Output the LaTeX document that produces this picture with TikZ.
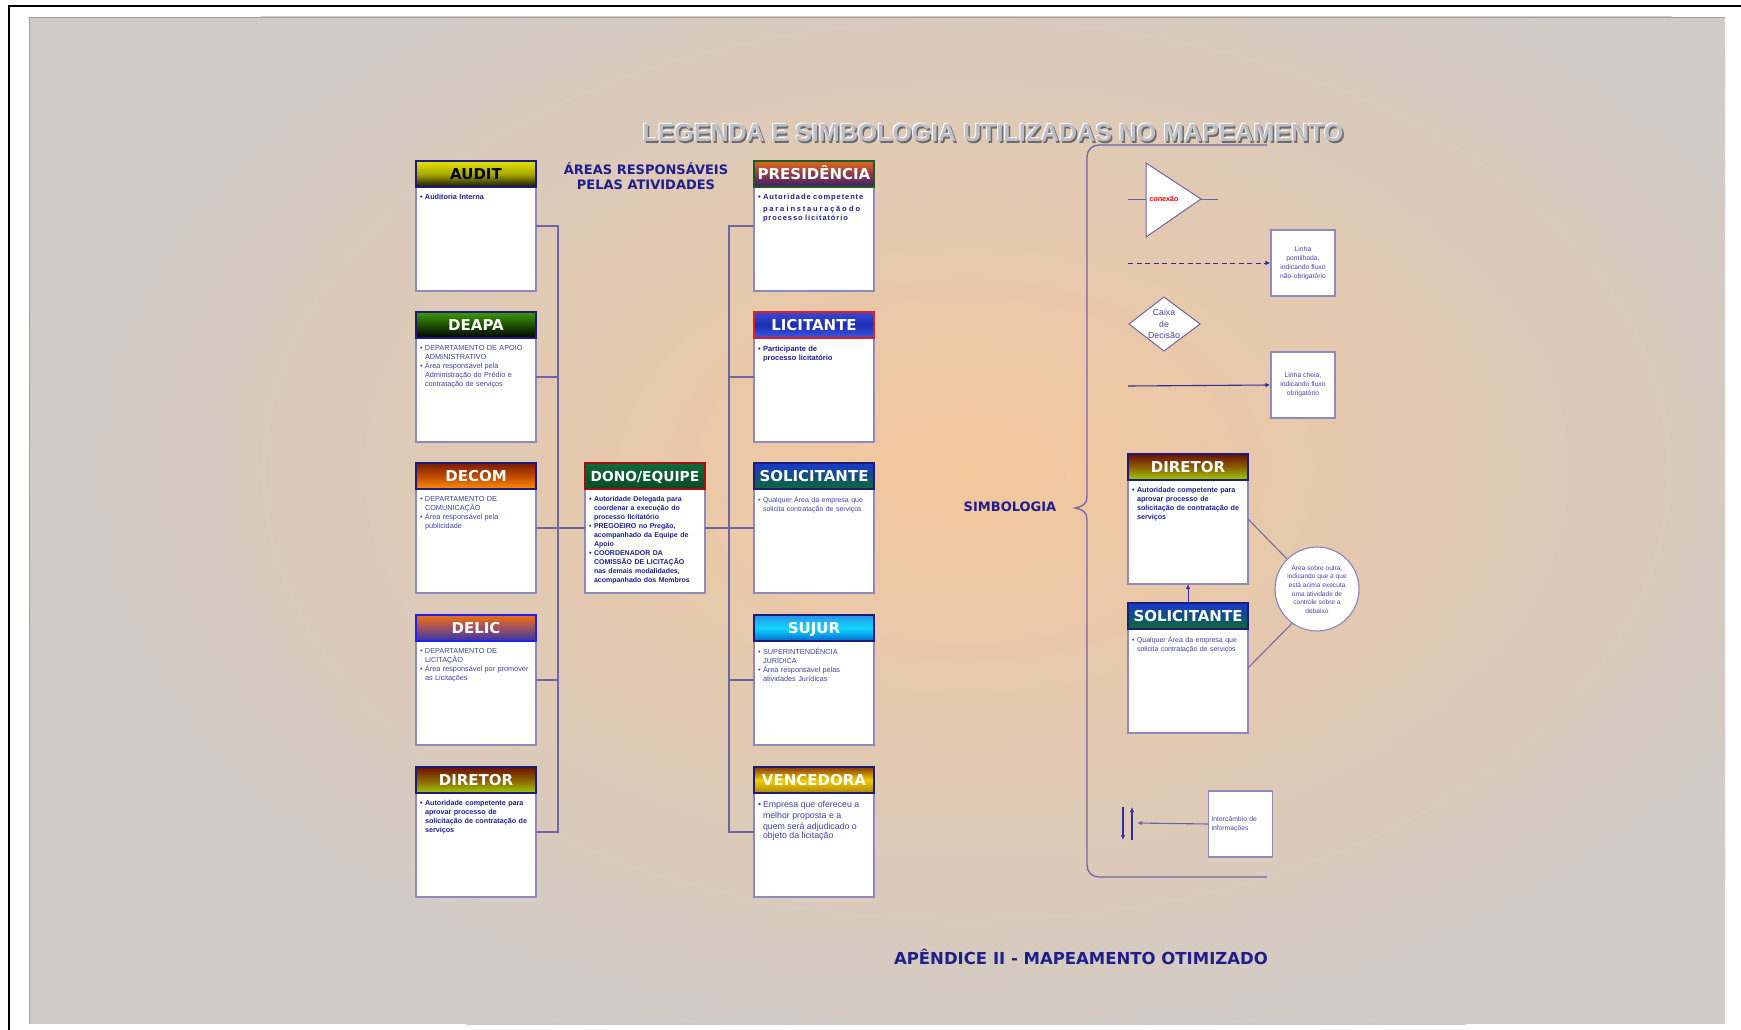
\documentclass[tikz,border=0pt]{standalone}
\usepackage{fontspec}
\setmainfont{Liberation Sans}
\newfontfamily\hfont{DejaVu Sans}
\newfontfamily\lsfontA{Liberation Sans}[LetterSpace=12]
\newfontfamily\lsfontB{Liberation Sans}[LetterSpace=24]
\usetikzlibrary{arrows.meta}
\definecolor{navy}{HTML}{1E1E8C}
\definecolor{navyl}{HTML}{4040A4}
\definecolor{legtxt}{HTML}{4646A8}
\definecolor{connc}{HTML}{6E66A6}
\definecolor{boxline}{HTML}{8E8ABE}
\definecolor{headline}{HTML}{1C1C78}
\definecolor{bggray}{HTML}{CDCCCB}
\definecolor{peach}{HTML}{F4C79C}
\definecolor{arrowc}{HTML}{30309A}
% header gradients
\definecolor{auT}{HTML}{E4E400}\definecolor{auM}{HTML}{A8A800}\definecolor{auB}{HTML}{141400}
\definecolor{deT}{HTML}{3E9A00}\definecolor{deM}{HTML}{1E5000}\definecolor{deB}{HTML}{000000}
\definecolor{dcT}{HTML}{7A1C00}\definecolor{dcM}{HTML}{C04A00}\definecolor{dcB}{HTML}{FF8C00}
\definecolor{dlT}{HTML}{F07010}\definecolor{dlM}{HTML}{9A5060}\definecolor{dlB}{HTML}{3434B0}
\definecolor{diT}{HTML}{6A1000}\definecolor{diM}{HTML}{8A6000}\definecolor{diB}{HTML}{A0CC00}
\definecolor{prT}{HTML}{E06818}\definecolor{prM}{HTML}{8A3C48}\definecolor{prB}{HTML}{38206E}
\definecolor{liT}{HTML}{3848D8}\definecolor{liM}{HTML}{1E2EB0}\definecolor{liB}{HTML}{3A5AE8}
\definecolor{soT}{HTML}{1838D0}\definecolor{soM}{HTML}{125080}\definecolor{soB}{HTML}{0E6A30}
\definecolor{suT}{HTML}{2890E8}\definecolor{suM}{HTML}{10D8FF}\definecolor{suB}{HTML}{0068D0}
\definecolor{veT}{HTML}{8A3800}\definecolor{veM}{HTML}{F0CC00}\definecolor{veB}{HTML}{B08800}
\definecolor{doT}{HTML}{0C6A3A}\definecolor{doB}{HTML}{0A4A26}
\definecolor{prline}{HTML}{1E5A22}\definecolor{liline}{HTML}{E02020}
\definecolor{dlline}{HTML}{2020F0}\definecolor{doline}{HTML}{A01010}
\newcommand\bp{\makebox[5pt][l]{\vrule width 0pt height 0.8em\textbullet}}
\newcommand\ind{\hspace*{5pt}}
\newcommand\areabox[6]{%
  \node[bodybox] (#1) at (#2,#3) {};
  \node[headbox,#5] (#1-h) at (#1.north west) {#4};
  \node[btext] (#1-t) at ([xshift=4pt,yshift=-33pt]#1.north west) {#6};}
\begin{document}
\begin{tikzpicture}[x=1pt,y=-1pt,
  bodybox/.style={draw=boxline, line width=1.4pt, fill=white, minimum width=120, minimum height=130, inner sep=0, outer sep=0, anchor=north west},
  headbox/.style={draw=headline, line width=1.6pt, minimum width=120, minimum height=26, inner sep=0, outer sep=0, anchor=north west, font=\hfont\bfseries\fontsize{15}{15}\selectfont, text=white, text height=10.9pt, text depth=0pt},
  btext/.style={anchor=north west, inner sep=0, outer sep=0, text width=114, align=left, text=navyl, font=\fontsize{7.3}{9}\selectfont},
  link/.style={draw=connc, line width=1.3pt},
  thinlink/.style={draw=connc, line width=1pt},
  arrowline/.style={draw=arrowc, line width=1.1pt, -{Latex[length=5pt,width=4.5pt]}},
  legbox/.style={draw=boxline, line width=1.2pt, fill=white, minimum width=64, minimum height=66, inner sep=0, text=legtxt, font=\fontsize{6.8}{9}\selectfont, align=center},
  heading/.style={text=navy, font=\hfont\bfseries\fontsize{13}{15}\selectfont, align=center}
]
\useasboundingbox (0,0) rectangle (1741,1030);
\fill[white] (0,0) rectangle (1741,1030);
\draw[black, line width=1.8pt] (8.7,1032) -- (8.7,6) -- (1743,6);
% panel
\fill[bggray] (29,17) rectangle (1725,1024);
\begin{scope}
  \clip (29,17) rectangle (1725,1024);
  \shade[inner color=peach, outer color=bggray] (966,470) ellipse [x radius=1000, y radius=640];
\end{scope}
\draw[gray!75, line width=1.2pt] (29.5,1024) -- (29.5,17.5) -- (1725,17.5);
\draw[gray!40, line width=0.8pt] (29.5,1023.5) -- (1725,1023.5);

% title
\node[font=\bfseries\fontsize{25}{25}\selectfont, text=gray!85!black] (titles) at (994.5,134.5) {LEGENDA E SIMBOLOGIA UTILIZADAS NO MAPEAMENTO};
\node[font=\bfseries\fontsize{25}{25}\selectfont, text=white] (titleh) at (992,132) {LEGENDA E SIMBOLOGIA UTILIZADAS NO MAPEAMENTO};
\node[font=\bfseries\fontsize{25}{25}\selectfont, text={rgb,255:red,190;green,190;blue,198}] (title) at (993,133) {LEGENDA E SIMBOLOGIA UTILIZADAS NO MAPEAMENTO};

\node[heading] (areas) at (646,176) {ÁREAS RESPONSÁVEIS\\PELAS ATIVIDADES};
\node[heading] (simb) at (1010,507) {SIMBOLOGIA};
\node[heading, font=\hfont\bfseries\fontsize{16.5}{18}\selectfont] (apend) at (1081,957) {APÊNDICE II - MAPEAMENTO OTIMIZADO};

% left column
\areabox{audit}{416}{161}{AUDIT}{top color=auT, bottom color=auB, middle color=auM, text=black}
  {\bfseries\color{navy}\bp Auditoria Interna}
\areabox{deapa}{416}{312}{DEAPA}{top color=deT, bottom color=deB, middle color=deM}
  {\bp DEPARTAMENTO DE APOIO\\\ind ADMINISTRATIVO\\\bp Área responsável pela\\\ind Administração do Prédio e\\\ind contratação de serviços}
\areabox{decom}{416}{463}{DECOM}{top color=dcT, bottom color=dcB, middle color=dcM}
  {\bp DEPARTAMENTO DE\\\ind COMUNICAÇÃO\\\bp Área responsável pela\\\ind publicidade}
\areabox{delic}{416}{615}{DELIC}{top color=dlT, bottom color=dlB, middle color=dlM, draw=dlline}
  {\bp DEPARTAMENTO DE\\\ind LICITAÇÃO\\\bp Área responsável por promover\\\ind as Licitações}
\areabox{diretor}{416}{767}{DIRETOR}{top color=diT, bottom color=diB, middle color=diM}
  {\bfseries\color{navy}\fontsize{7.2}{9}\selectfont\bp Autoridade competente para\\\ind aprovar processo de\\\ind solicitação de contratação de\\\ind serviços}

% middle
\areabox{dono}{585}{463}{\fontsize{13.8}{14}\selectfont DONO/EQUIPE}{top color=doT, bottom color=doB, draw=doline}
  {\bfseries\color{navy}\fontsize{7}{9}\selectfont\bp Autoridade Delegada para\\\ind coordenar a execução do\\\ind processo licitatório\\\bp PREGOEIRO no Pregão,\\\ind acompanhado da Equipe de\\\ind Apoio\\\bp COORDENADOR DA\\\ind COMISSÃO DE LICITAÇÃO\\\ind nas demais modalidades,\\\ind acompanhado dos Membros}

% right column
\areabox{presid}{754}{161}{PRESIDÊNCIA}{top color=prT, bottom color=prB, middle color=prM, draw=prline}
  {\lsfontA\bfseries\color{navy}\fontsize{7.5}{11.3}\selectfont\bp\makebox[106pt][s]{Autoridade competente}\\\ind{\lsfontB\bfseries\makebox[106pt][s]{para instauração do}}\\\ind processo licitatório}
\areabox{licit}{754}{312}{LICITANTE}{top color=liT, bottom color=liB, middle color=liM, draw=liline}
  {\bfseries\color{navy}\fontsize{7.5}{11.3}\selectfont\bp Participante de\\\ind processo licitatório}
\areabox{solic}{754}{463}{SOLICITANTE}{top color=soT, bottom color=soB, middle color=soM}
  {\fontsize{7}{9}\selectfont\bp Qualquer Área da empresa que\\\ind solicita contratação de serviços}
\areabox{sujur}{754}{615}{SUJUR}{top color=suT, bottom color=suB, middle color=suM}
  {\bp SUPERINTENDÊNCIA\\\ind JURÍDICA\\\bp Área responsável pelas\\\ind atividades Jurídicas}
\areabox{venc}{754}{767}{VENCEDORA}{top color=veT, bottom color=veB, middle color=veM}
  {\fontsize{8.8}{11.3}\selectfont\bp Empresa que ofereceu a\\\ind melhor proposta e a\\\ind quem será adjudicado o\\\ind objeto da licitação}

% trunks
\coordinate (lt) at (558,0);
\coordinate (rt) at (729,0);
\draw[link] (audit.east) -- (audit.east -| lt) -- (diretor.east -| lt) -- (diretor.east);
\draw[link] (deapa.east) -- (deapa.east -| lt);
\draw[link] (decom.east) -- (dono.west);
\draw[link] (delic.east) -- (delic.east -| lt);
\draw[link] (presid.west) -- (presid.west -| rt) -- (venc.west -| rt) -- (venc.west);
\draw[link] (licit.west) -- (licit.west -| rt);
\draw[link] (dono.east) -- (solic.west);
\draw[link] (sujur.west) -- (sujur.west -| rt);

% brace
\draw[link] (1267,145) -- (1099,145) .. controls (1092,145) and (1087,150) .. (1087,157) -- (1087,497)
  .. controls (1087,504) and (1082,507) .. (1075,508) .. controls (1082,509) and (1087,512) .. (1087,519)
  -- (1087,865) .. controls (1087,872) and (1092,877) .. (1099,877) -- (1267,877);

% legend: connection
\coordinate (c0) at (1128,199);
\coordinate (c1) at (1218,199);
\draw[thinlink] (c0) -- (c1);
\draw[thinlink, fill=white] (1146,163) -- (1201,199) -- (1146,237) -- cycle;
\node[font=\bfseries\fontsize{7.2}{8}\selectfont, text=red] (cx) at (1164,199) {conexão};

% dashed arrow
\node[legbox] (lpbox) at (1303,263) {Linha\\pontilhada,\\indicando fluxo\\não-obrigatório};
\coordinate (d0) at (1128,263);
\draw[arrowline, line width=0.9pt, dash pattern=on 5pt off 3.5pt] (d0) -- (lpbox.west);

% decision
\draw[thinlink, fill=white] (1129,324) -- (1164,297) -- (1200,324) -- (1164,351) -- cycle;
\node[font=\fontsize{8.8}{11.5}\selectfont, text=legtxt, align=center] (dec) at (1164,324) {Caixa\\de\\Decisão};

% solid arrow
\node[legbox] (lcbox) at (1303,385) {Linha cheia,\\indicando fluxo\\obrigatório};
\coordinate (s0) at (1128,386);
\draw[arrowline] (s0) -- (lcbox.west);

% legend boxes
\areabox{ldir}{1128}{454}{DIRETOR}{top color=diT, bottom color=diB, middle color=diM}
  {\bfseries\color{navy}\fontsize{7.2}{9}\selectfont\bp Autoridade competente para\\\ind aprovar processo de\\\ind solicitação de contratação de\\\ind serviços}
\areabox{lsol}{1128}{603}{SOLICITANTE}{top color=soT, bottom color=soB, middle color=soM}
  {\fontsize{7}{9}\selectfont\bp Qualquer Área da empresa que\\\ind solicita contratação de serviços}
\draw[arrowline, line width=1pt] (lsol.north) -- (ldir.south);

% control circle
\node[circle, draw=boxline, line width=1.2pt, fill=white, minimum size=84, inner sep=0] (ctrl) at (1317,589) {};
\node[font=\fontsize{6.6}{8.7}\selectfont, text=legtxt, align=center] (ctrlt) at (1317,589) {Área sobre outra,\\indicando que a que\\está acima executa\\uma atividade de\\controle sobre a\\debaixo};
\draw[thinlink] (ldir.east) -- (ctrl.135);
\draw[thinlink] (lsol.east) -- (ctrl.234);

% exchange
\node[legbox, text width=58, align=left] (ibox) at (1240.5,824) {Intercâmbio de\\informações};
\coordinate (ix) at (1137,823);
\draw[arrowline, draw=connc] (ibox.west) -- (ix);
\coordinate (v1a) at (1123,807);
\coordinate (v1b) at (1123,840);
\coordinate (v2a) at (1132,840);
\coordinate (v2b) at (1132,807);
\draw[arrowline] (v1a) -- (v1b);
\draw[arrowline] (v2a) -- (v2b);
\end{tikzpicture}
\end{document}
